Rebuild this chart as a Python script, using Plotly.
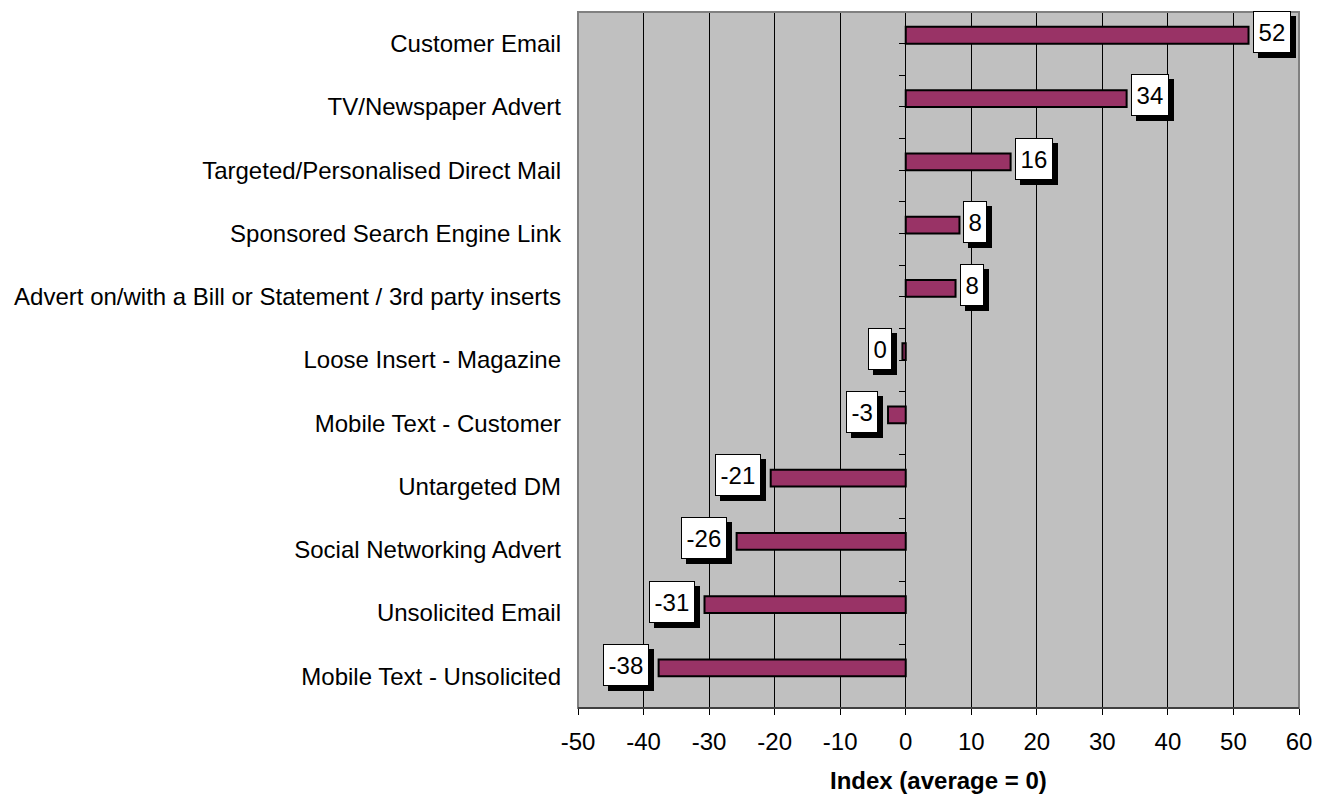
import plotly.graph_objects as go

categories = [
    "Customer Email",
    "TV/Newspaper Advert",
    "Targeted/Personalised Direct Mail",
    "Sponsored Search Engine Link",
    "Advert on/with a Bill or Statement / 3rd party inserts",
    "Loose Insert - Magazine",
    "Mobile Text - Customer",
    "Untargeted DM",
    "Social Networking Advert",
    "Unsolicited Email",
    "Mobile Text - Unsolicited",
]
values = [52.3, 33.7, 16.0, 8.2, 7.6, -0.5, -2.7, -20.6, -25.8, -30.7, -37.7]
labels = ["52", "34", "16", "8", "8", "0", "-3", "-21", "-26", "-31", "-38"]
x_ticks = [-50, -40, -30, -20, -10, 0, 10, 20, 30, 40, 50, 60]

FONT = "Arial, Liberation Sans, sans-serif"
FS = 24
BAR = "#993366"

fig = go.Figure()
fig.add_trace(go.Bar(
    y=categories, x=values, orientation="h", width=0.265, offset=-0.265,
    marker=dict(color=BAR, line=dict(color="black", width=2)),
    showlegend=False, hoverinfo="skip",
))
# helper trace so the zero-line tick axis renders
fig.add_trace(go.Scatter(x=[None], y=[None], yaxis="y2", showlegend=False, hoverinfo="skip"))

def box_width(t):
    digits = sum(c.isdigit() for c in t)
    minus = t.count("-")
    return digits * 13.4 + minus * 8 + 7

annotations = []
for cat, v, t in zip(categories, values, labels):
    w = box_width(t)
    if v >= 0:
        anchor, xs = "left", 4
    else:
        anchor, xs = "right", -10
    common = dict(x=v, y=cat, xref="x", yref="y", showarrow=False,
                  xanchor=anchor, yanchor="middle", width=w, height=38,
                  borderpad=1, borderwidth=1,
                  font=dict(family=FONT, size=FS, color="black"))
    # shadow
    annotations.append(dict(common, text="\u00a0", xshift=xs + 5, yshift=11.5 - 5,
                            bgcolor="black", bordercolor="black"))
    annotations.append(dict(common, text=t, xshift=xs, yshift=11.5,
                            bgcolor="white", bordercolor="black"))

annotations.append(dict(
    x=0.5, y=0, xref="paper", yref="paper",
    text="<b>Index (average = 0)</b>", showarrow=False,
    xanchor="center", yanchor="top", yshift=-57,
    font=dict(family=FONT, size=FS, color="black"),
))

fig.update_layout(
    width=1330, height=795,
    margin=dict(l=578, r=31, t=12, b=87, autoexpand=False),
    paper_bgcolor="white", plot_bgcolor="#C0C0C0",
    font=dict(family=FONT, size=FS, color="black"),
    xaxis=dict(
        range=[-50, 60], tickvals=x_ticks, ticktext=[str(v) for v in x_ticks],
        showgrid=True, gridcolor="black", gridwidth=1, zeroline=False,
        showline=True, linecolor="black", linewidth=1,
        ticks="outside", ticklen=6, tickcolor="black", ticklabelstandoff=6,
        tickfont=dict(family=FONT, size=FS), fixedrange=True,
    ),
    yaxis=dict(
        categoryorder="array", categoryarray=categories,
        range=[10.5, -0.5], showgrid=False, zeroline=False, ticks="",
        showline=False, ticklabelstandoff=16,
        tickfont=dict(family=FONT, size=FS), fixedrange=True,
    ),
    yaxis2=dict(
        overlaying="y", anchor="free", position=50 / 110, side="left",
        range=[10.5, -0.5], tickvals=[i * 0.5 - 0.5 for i in range(23)],
        showticklabels=False, ticks="outside", ticklen=7, tickcolor="black",
        showgrid=False, zeroline=False, showline=False, fixedrange=True,
    ),
    annotations=annotations,
    shapes=[dict(type="rect", xref="paper", yref="paper", x0=0, x1=1, y0=0, y1=1,
                 line=dict(color="#808080", width=2), layer="above")],
)
fig.add_shape(type="line", xref="paper", yref="paper", x0=0, x1=1, y0=0, y1=0,
              line=dict(color="black", width=1), layer="above")

fig.write_html("out.html")
